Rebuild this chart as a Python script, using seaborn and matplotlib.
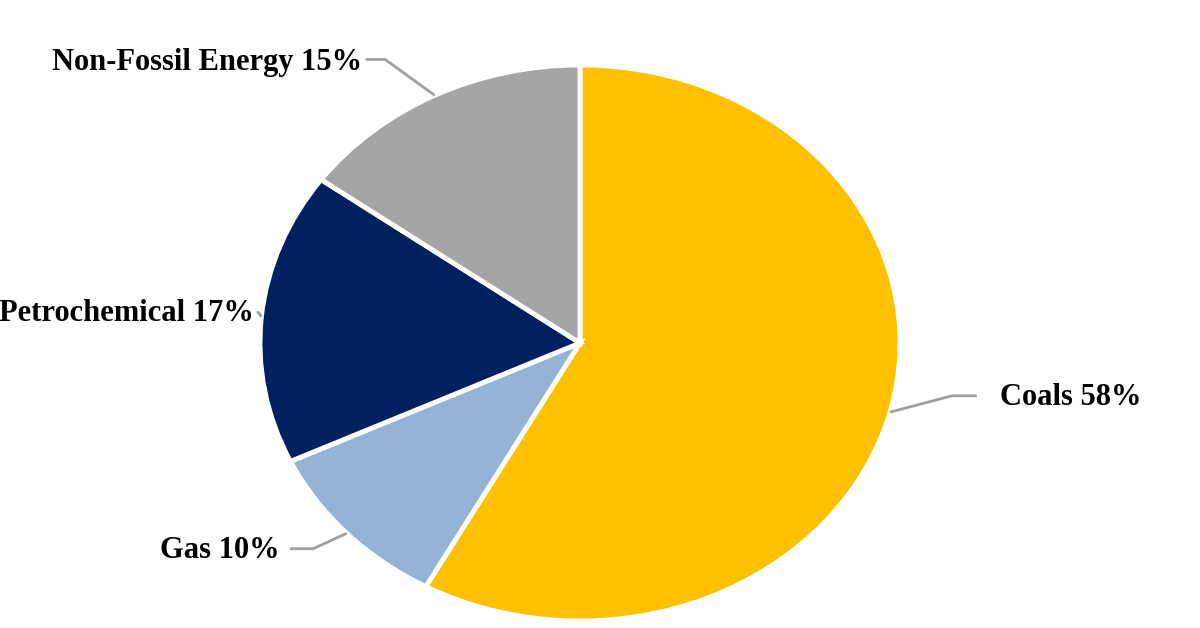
import numpy as np
import seaborn as sns
import matplotlib.pyplot as plt

sns.set_theme(style="white")
plt.rcParams['font.family'] = ['Liberation Serif', 'DejaVu Serif']

# energy mix shares (%)
sources = ["Coals", "Gas", "Petrochemical", "Non-Fossil Energy"]
shares = [58, 10, 17, 15]
colors = ["#FFC000", "#95B3D7", "#002060", "#A5A5A5"]

fig = plt.figure(figsize=(12, 6.28), dpi=100)
ax = fig.add_axes([0, 0, 1, 1])

wedges, _ = ax.pie(shares, colors=colors, startangle=90, counterclock=False,
                   wedgeprops=dict(edgecolor="white", linewidth=3.5))

# stretch pie into the ellipse seen in the reference
ax.set_aspect("auto")
ax.set_xlim(-580 / 320, 620 / 320)
ax.set_ylim(-285 / 278, 343 / 278)
ax.axis("off")

# label text anchor, line start, elbow and alignment for each wedge
label_pos = {
    "Coals": ((1.3125, -0.195), (1.24, -0.19), (1.1625, -0.19), "left"),
    "Gas": ((-0.9375, -0.745), (-0.906, -0.74), (-0.834, -0.74), "right"),
    "Petrochemical": ((-1.02, 0.105), (-1.01, 0.11), (-1.005, 0.11), "right"),
    "Non-Fossil Energy": ((-0.68, 1.01), (-0.67, 1.02), (-0.609, 1.02), "right"),
}

for w, name, val in zip(wedges, sources, shares):
    ang = np.deg2rad((w.theta1 + w.theta2) / 2)
    ax_, ay_ = np.cos(ang), np.sin(ang)
    txt, start, elbow, ha = label_pos[name]
    ax.plot([start[0], elbow[0], ax_], [start[1], elbow[1], ay_],
            color="#A0A0A0", lw=2, solid_capstyle="butt")
    ax.text(txt[0], txt[1], f"{name} {val}%", ha=ha, va="center",
            fontsize=22, fontweight="bold", color="black")

plt.savefig("out.png", dpi=100, facecolor="white")
